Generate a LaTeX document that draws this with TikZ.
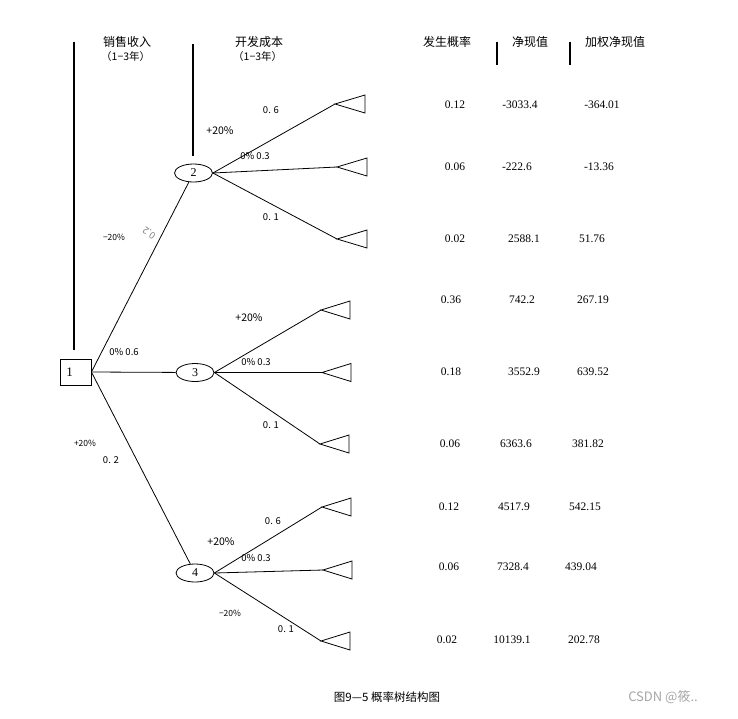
\documentclass[tikz,border=0pt]{standalone}
\usepackage{fontspec}
\setmainfont{Liberation Serif}
\newfontfamily\cjk{Noto Sans CJK SC}
\usetikzlibrary{shapes.geometric}

\begin{document}
\begin{tikzpicture}[
    x=1pt, y=-1pt,
    chance/.style={ellipse, draw, thick, minimum width=38pt, minimum height=18pt, inner sep=0pt, font=\fontsize{12}{12}\selectfont},
    decisao/.style={rectangle, draw, thick, minimum width=31pt, minimum height=26pt, inner sep=0pt, font=\fontsize{13}{13}\selectfont},
    ramo/.style={thick},
    rotulo/.style={font=\cjk\fontsize{9.5}{10}\selectfont, inner sep=0pt},
    titulo/.style={font=\cjk\fontsize{12}{12}\selectfont, inner sep=0pt, anchor=west},
    valor/.style={font=\fontsize{11.5}{12}\selectfont, inner sep=0pt},
    barra/.style={line width=2pt}
  ]
    \useasboundingbox (0,0) rectangle (738,718);

    % headers
    \draw[barra] (74,42) -- (74,350);
    \draw[barra] (193,44) -- (193,156);
    \node[titulo] (h1) at (103,42) {销售收入};
    \node[titulo, font=\cjk\fontsize{10.5}{11}\selectfont] (h1b) at (101,57) {（1−3年）};
    \node[titulo] (h2) at (235,42) {开发成本};
    \node[titulo, font=\cjk\fontsize{10.5}{11}\selectfont] (h2b) at (233,57) {（1−3年）};
    \node[titulo] (h3) at (423,42) {发生概率};
    \node[titulo] (h4) at (512,42) {净现值};
    \node[titulo] (h5) at (585,42) {加权净现值};
    \draw[line width=1.5pt] (497,42) -- (497,65);
    \draw[line width=1.5pt] (570,42) -- (570,65);

    % nodes
    \node[decisao] (n1) at (75.5,372) {\hspace*{-12pt}1};
    \node[chance] (n2) at (193.5,173) {2};
    \node[chance] (n3) at (195,372.5) {3};
    \node[chance] (n4) at (195,573) {4};

    % terminal points
    \coordinate (t1) at (335,104);
    \coordinate (t2) at (337,167);
    \coordinate (t3) at (337,239);
    \coordinate (t4) at (321,310);
    \coordinate (t5) at (322,372.5);
    \coordinate (t6) at (320,444);
    \coordinate (t7) at (322,507);
    \coordinate (t8) at (323,570);
    \coordinate (t9) at (321,641);
    \foreach \t in {t1,t2,t3} {
      \draw[ramo] (\t) -- ++(30,-9) -- ++(0,18) -- cycle;
    }
    \foreach \t in {t4,t5,t6,t7,t8,t9} {
      \draw[ramo] (\t) -- ++(29,-9) -- ++(0,18) -- cycle;
    }

    % branches
    \draw[ramo] (n1.east) -- (n2);
    \draw[ramo] (n1.east) -- (n3);
    \draw[ramo] (n1.east) -- (n4);
    \draw[ramo] (n2.east) -- (t1);
    \draw[ramo] (n2.east) -- (t2);
    \draw[ramo] (n2.east) -- (t3);
    \draw[ramo] (n3.east) -- (t4);
    \draw[ramo] (n3.east) -- (t5);
    \draw[ramo] (n3.east) -- (t6);
    \draw[ramo] (n4.east) -- (t7);
    \draw[ramo] (n4.east) -- (t8);
    \draw[ramo] (n4.east) -- (t9);

    % branch labels
    \node[rotulo, font=\cjk\fontsize{8.5}{9}\selectfont] (l1) at (114,237) {−20\%};
    \node[rotulo, gray, rotate=145] (l2) at (149,233) {0.2};
    \node[rotulo] (l3) at (124,352) {0\% 0.6};
    \node[rotulo, font=\cjk\fontsize{8.5}{9}\selectfont] (l4) at (85,443) {+20\%};
    \node[rotulo] (l5) at (111,460) {0. 2};
    \node[rotulo] (l6) at (271,110) {0. 6};
    \node[rotulo, font=\cjk\fontsize{10.5}{10}\selectfont] (l7) at (220,131) {+20\%};
    \node[rotulo] (l8) at (255,156) {0\% 0.3};
    \node[rotulo] (l9) at (271,217) {0. 1};
    \node[rotulo, font=\cjk\fontsize{10.5}{10}\selectfont] (l10) at (249,318) {+20\%};
    \node[rotulo] (l11) at (256,362) {0\% 0.3};
    \node[rotulo] (l12) at (271,425) {0. 1};
    \node[rotulo] (l13) at (273,521) {0. 6};
    \node[rotulo, font=\cjk\fontsize{10.5}{10}\selectfont] (l14) at (221,542) {+20\%};
    \node[rotulo] (l15) at (256,558) {0\% 0.3};
    \node[rotulo, font=\cjk\fontsize{8.5}{9}\selectfont] (l16) at (230,613) {−20\%};
    \node[rotulo] (l17) at (286,629) {0. 1};

    % results table
    \foreach \y/\xa/\pa/\xb/\vb/\xc/\vc in {
        105/455/0.12/520/-3033.4/602/-364.01,
        167/455/0.06/517/-222.6/599/-13.36,
        239/455/0.02/524/2588.1/592/51.76,
        300/451/0.36/522/742.2/593/267.19,
        372/451/0.18/524/3552.9/593/639.52,
        444/450/0.06/516/6363.6/588/381.82,
        507/449/0.12/514/4517.9/585/542.15,
        567/449/0.06/513/7328.4/581/439.04,
        640/447/0.02/512/10139.1/584/202.78} {
      \node[valor] at (\xa,\y) {\pa};
      \node[valor] at (\xb,\y) {\vb};
      \node[valor] at (\xc,\y) {\vc};
    }

    % caption
    \node[font=\cjk\fontsize{11.5}{12}\selectfont, inner sep=0pt] (cap) at (387,697) {图9—5 概率树结构图};
    \node[font=\cjk\fontsize{13}{13}\selectfont, text=black!35, inner sep=0pt] (wm) at (663,697) {CSDN @筱..};
  \end{tikzpicture}
\end{document}
